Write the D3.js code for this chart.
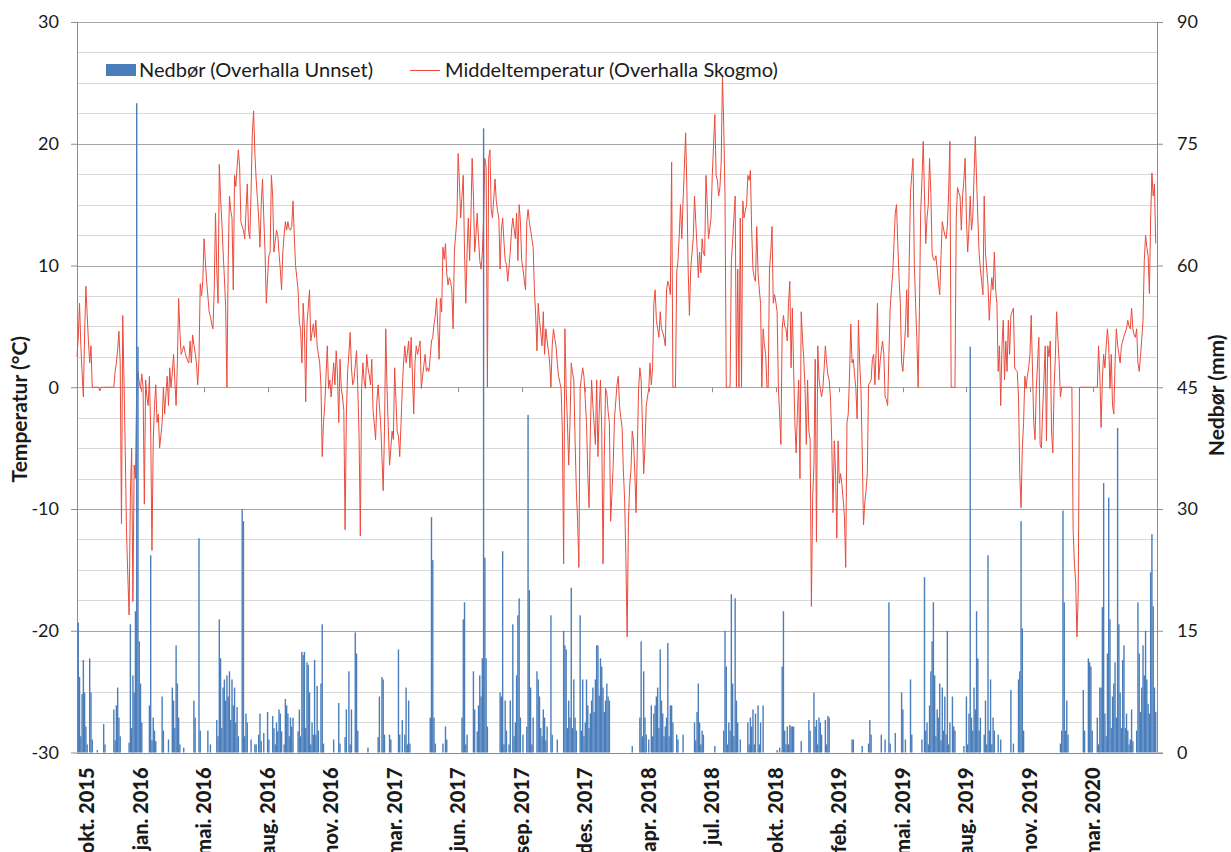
<!DOCTYPE html>
<html lang="no">
<head>
<meta charset="utf-8">
<title>Nedbør og middeltemperatur, Overhalla 2015-2020</title>
<script src="https://cdn.jsdelivr.net/npm/d3@7"></script>
<style>
  body { margin: 0; background: #fff; }
  svg text { font-family: Lato, "Open Sans", sans-serif; fill: #1a1a1a; }
  .axis text { font-size: 18px; }
  .axis path { display: none; }
  .axis line { stroke: #8c8c8c; }
  .x_label { font-size: 20px; font-weight: 900; }
  .axis_title { font-size: 21px; font-weight: bold; }
  .legend text { font-size: 20px; }
</style>
</head>
<body>
<div id="chart"></div>
<script>
const svg_width = 1231;
const svg_height = 852;
const margin = {top: 22, right: 74, bottom: 99.5, left: 77};

// first date of the series, one value every second day
const start_date = new Date(2015, 9, 21);
const step_days = 2;
const tick_every_days = 100;

const date_tick_labels = ['okt. 2015', 'jan. 2016', 'mai. 2016', 'aug. 2016', 'nov. 2016',
  'mar. 2017', 'jun. 2017', 'sep. 2017', 'des. 2017', 'apr. 2018', 'jul. 2018', 'okt. 2018',
  'feb. 2019', 'mai. 2019', 'aug. 2019', 'nov. 2019', 'mar. 2020'];
const temp_ticks = [-30, -20, -10, 0, 10, 20, 30];
const precip_ticks = [0, 15, 30, 45, 60, 75, 90];

// Middeltemperatur (Overhalla Skogmo), °C  (missing days are plotted as 0)
const temp_values = [
  2.5, 4.1, 6.9, 3.5, 1.2, -0.8, 4.5, 8.3, 6.0, 3.8,
  2.0, 3.4, 0, 0, 0, 0, 0, 0, -0.3, 0,
  0, 0, 0, 0, 0, 0, 0, 0, 0, 0,
  1.3, 2.0, 3.1, 4.6, 2.0, -11.2, 5.9, 0.5, -5.4, -12,
  -15.5, -18.7, -9, -5, -17.6, -6.4, -7.5, 0, 1.3, 0.4,
  -0.1, 1.1, 0, -9.6, 0.6, -0.8, -1.5, 0.9, -3.6, -13.4,
  -4.4, -1.5, 0.2, -2.9, -2.2, -5, -4, -2.9, 0, -2.2,
  -0.5, 0.9, -1.5, 1.6, 0, 1.2, 2.7, 0.5, -1.5, 2,
  7.3, 4.5, 2.7, 3.0, 3.4, 2.9, 2.5, 2.2, 2.0, 3.8,
  2.0, 4.3, 3.5, 2.8, 2.0, 0.2, 2.3, 8.5, 7.5, 8.7,
  12.2, 10.4, 8.7, 7.5, 6.2, 5.8, 5.2, 4.8, 8, 14.3,
  9.7, 6.9, 18.3, 15.5, 13.6, 11.1, 9, 6.6, 0, 10.4,
  15.7, 14.5, 13.9, 8, 17.4, 16.5, 18.1, 19.5, 18.1, 13.6,
  13.2, 12.9, 12.2, 14.5, 16.7, 12.9, 12.2, 16, 20.9, 22.7,
  19.2, 17.1, 15.5, 13.9, 11.5, 15, 17.1, 13.9, 11.1, 6.9,
  9, 10.8, 11.1, 17.4, 15.7, 11.1, 12, 12.9, 12.5, 11,
  9.7, 8, 11.1, 12.5, 13.6, 12.9, 13.6, 13, 12.9, 13.2,
  15.3, 12.5, 10, 9, 8, 5.3, 4.8, 2, 6.9, 4.8,
  -1.2, 5.2, 6.5, 8, 3.8, 4.5, 5.2, 4.1, 5.5, 3.4,
  2.7, 2, 0.2, -5.7, -2.9, -1.5, 1, 3.4, -0.1, 0.6,
  -0.8, 0.5, 2, 0.2, 3, 1, -2.9, 2.3, -0.1, -0.8,
  -1.9, -11.7, -2.2, 1.3, 2.8, 4.5, 1.6, 0.2, 0.6, 1.8,
  3, -0.1, -4, -12.2, -0.1, 2, 0.5, -0.1, 2.7, 1.6,
  1, 0.2, 2.3, -1.9, -3, -4.3, -1.2, 0.2, -1.5, -3,
  -5.7, -8.5, -3.6, 4.8, -0.1, -3.3, -6.4, -5, -3.6, -4.3,
  1.6, -1, -3.6, -4, -5.7, -3, -0.1, 2, 3.4, 2,
  2.8, 3.8, 1.6, 4.1, 1, -2.2, 2, 3.4, 2.7, 3.2,
  3.8, -0.1, 0.9, 1.8, 2.7, 1.3, 1.6, 1.3, 2.5, 3.8,
  4.1, 5.2, 5.9, 7.3, 4.8, 2.3, 7.3, 6.2, 11.5, 10.5,
  11.8, 9.4, 8.4, 9, 8.7, 8, 4.8, 11.1, 12.5, 13.9,
  19.2, 16.7, 13.9, 15.7, 17.4, 11.1, 6.9, 11.1, 13.9, 10.4,
  13.9, 18.8, 15.7, 11.1, 12.5, 14.3, 12.2, 10.4, 9.7, 11,
  13.9, 18.8, 18.1, 0, 18.8, 19.5, 14.6, 13.9, 15.5, 17.1,
  15.3, 14.5, 13.9, 9.7, 12.9, 13.9, 12, 10.4, 10.1, 8.7,
  9.9, 11.1, 12.9, 13.9, 13, 12.2, 14.3, 10.4, 15, 13.6,
  10.4, 9.7, 8.8, 8, 13.6, 14.6, 13.6, 12.9, 12.2, 11.5,
  8, 5.9, 3, 6.9, 5.5, 4.5, 3.4, 6.2, 2.7, 4.8,
  3.8, 3, 2, 0, 3.4, 4.8, 4, 3.4, 2, 0.9,
  0.4, -0.1, -3.6, -14.5, 4.8, -0.1, -3, -6.4, -2.9, 2,
  1.2, 0.6, -4.3, -8.5, -11, -14.8, -0.1, 0.8, 1.6, 0.9,
  -1, -2.9, -7.1, -9.9, -3.6, 0.6, -1.5, -3, -4.7, 0.6,
  -5.7, -2, 0.6, -3.6, -14.5, -5.7, -0.1, -0.5, -2, -2.9,
  -11, -8.8, -6.4, -2.6, -1.2, 0.2, 0.9, -1.5, -2.5, -3.3,
  -6.8, -9.2, -14.1, -20.5, -11, -8, -6.8, -3.6, -4.4, -7,
  -10.3, -5, -0.1, 1.6, 0.6, -3, -7.1, -5, -1.5, -0.8,
  -0.1, 2, 0.2, 1.6, 6.9, 8, 5.5, 4.8, 4.1, 6.2,
  4.8, 4.5, 4.1, 3.4, 8, 8.7, 8.3, 7.6, 18.5, 0,
  0, 0, 9.4, 10.4, 12.5, 15, 12.2, 15.3, 18, 20.9,
  16.4, 9.7, 5.9, 9.7, 11, 12.2, 15.7, 13.6, 11.5, 9,
  11.1, 9.4, 12.2, 11, 10.8, 17.4, 15, 12.2, 13, 13.9,
  17.4, 19.9, 22.4, 17.4, 17, 15.7, 16.4, 18.5, 25.5, 21.6,
  15.7, 0, 0, 0, 0, 10.4, 12, 13.9, 15.7, 0,
  9.7, 0, 13.9, 0, 15.3, 13.9, 14.5, 15, 17.4, 17,
  17.8, 12.9, 9.7, 9, 8.7, 13.2, 9.4, 8, 6.9, 0,
  4.8, 3.5, 2.7, 0, 0, 9.7, 11, 13.2, 6.9, 7.6,
  7, 6.2, 0, -2.2, -4.7, 4.8, 5.9, 5, 4.8, 3.8,
  6.9, 8.7, 1.6, 6.5, 1.6, -2.9, -5.4, -2, 0.6, -7.5,
  6.2, 4, 2.3, -0.1, -4.7, 0.6, -3.6, -4.3, -18, -9,
  -6.4, 2.3, -12.7, 3.4, 0.6, -0.1, -0.8, -0.1, 1.5, 3.4,
  2, 1, 0.6, -0.8, -4.4, -10.3, -4.4, -6.9, -12.4, -4.4,
  -7.9, -7.1, -8, -9.2, -10.6, -14.8, -2.9, -2.2, 1, 5.2,
  2, 2.3, 1, -0.1, -2.6, 5.5, 2, -0.1, -5.4, -11.3,
  -9.5, -8.5, -7.1, 0.2, 0.4, 0.6, 2.3, 2.7, 0.2, 3,
  6.9, 0.6, 2, 3, 3.8, 2.7, -0.8, -1, -1.5, 2.7,
  6.5, 8, 9.4, 11.8, 14.3, 15, 11.8, 9, 6.9, 2,
  1.3, 3, 4.8, 8, 4.1, 10.4, 16, 17.5, 18.8, 10.1,
  6.9, 4, 0, 6.2, 14.3, 17, 20.2, 16, 11.8, 13.9,
  15, 18.8, 16, 11.1, 10.5, 10.4, 10.8, 9.7, 8.5, 7.6,
  10.8, 13.6, 13, 12.5, 12.2, 13.2, 16, 20.2, 0, 0,
  0, 0, 13.9, 16.4, 16, 15.7, 12.9, 15.7, 17, 18.8,
  13.9, 11.1, 13, 15.7, 12.9, 13.9, 17.4, 20.6, 17.1, 13.9,
  11, 9.7, 8.7, 7.6, 15.7, 11, 9.7, 8.4, 5.5, 7.5,
  9, 8, 11.1, 8, 6.9, 1.3, 3.4, -1.5, 3.4, 5.5,
  0.6, 3.8, 1.3, 5.5, 2.7, 5.9, 6.2, 6.5, 1.6, 1.4,
  1.3, -0.8, -7.1, -9.9, -5, -2.9, 0.9, -0.1, 1, 1.6,
  2.7, 5.9, 1.5, -2.9, -4.3, -0.1, 2, 4.1, -4.7, -5,
  -2, 0.6, 3.4, -4.4, 3.4, 2.5, 3.8, -3.6, -5.4, -0.1,
  2.5, 6.2, 4, 2, -0.8, 0, 0, 0, 0, 0,
  0, 0, 0, 0, -11.7, -14.5, -16, -20.5, -17, 0,
  0, 0, 0, 0, 0, 0, 0, 0, 0, 0,
  0, 0, 0, 0, 3.4, 1, -3.3, 0.6, 2.7, 1.6,
  3.4, 4.8, 3.4, -0.1, 2.7, -1.5, -2.2, 2, 4.8, 3.5,
  2.7, 2, 3.4, 3.8, 4.2, 4.5, 4.8, 5.5, 5, 4.8,
  6.5, 4.8, 4.3, 4.1, 4.8, 2, 1.3, 2.5, 4, 5.5,
  10.4, 12.5, 11.5, 10.8, 7.7, 13.9, 17.6, 15.7, 16.7, 11.8
];

// Nedbør (Overhalla Unnset), mm
const precip_values = [
  0, 16, 9.3, 2, 7.2, 11.4, 7.4, 3.2, 1, 0,
  11.6, 7.4, 1.6, 0, 0, 0, 0.3, 0, 0, 0,
  0, 3.5, 1, 0, 0, 0, 0, 0, 0, 5.3,
  1.5, 5.8, 8, 4.3, 2, 0, 0, 0, 0, 0,
  0, 1.2, 15.8, 3, 9.5, 7.4, 17.4, 80, 50, 13.7,
  8.5, 3.7, 0, 0, 0, 0, 0, 5.8, 24.3, 1.5,
  4.3, 2.7, 1.4, 0, 0, 0, 0, 6.9, 2.7, 0,
  0, 0, 1.6, 0, 0, 8, 6.4, 3, 13.2, 8.5,
  4.3, 1, 0, 0, 0.6, 0, 0, 0, 0, 0,
  0, 0, 6.4, 4.3, 0, 0, 26.4, 2.7, 0, 0,
  0, 0, 0, 2.7, 0, 1, 0, 0, 0, 0,
  4, 2, 16.4, 11.6, 3, 8, 9, 6.4, 9.5, 6.9,
  10, 4, 9, 5.8, 8, 3.7, 5.6, 2, 0, 0,
  30, 28.5, 2, 4.8, 3.7, 0, 0, 1.6, 0, 0,
  1, 1, 0, 2.2, 4.8, 1.4, 0, 2.4, 0, 0,
  5, 1.6, 0, 0, 4.5, 3, 1, 3.7, 2.6, 5.3,
  4.8, 2.6, 0, 1, 6.6, 5.8, 4.8, 2, 4.3, 3.2,
  4.3, 0, 0, 0, 2.6, 5.3, 2, 12.4, 12, 12.4,
  3, 11.1, 10.8, 7.4, 1, 3.7, 2.2, 11.4, 2.2, 8.2,
  2.7, 0, 8.5, 15.8, 1.1, 0, 0, 0, 0, 0,
  0, 0, 1.6, 0, 0, 0, 6.1, 1.1, 0, 0,
  0, 1.9, 5.3, 0, 10, 1, 5.3, 0, 0, 14.8,
  12.2, 2.7, 0, 0, 0, 0, 0, 0, 0, 0.6,
  0, 0, 0, 0, 0, 0, 0, 1.9, 6.9, 0,
  9.3, 9, 2.2, 0, 0, 0, 2.2, 1.6, 0, 0,
  0, 0, 0, 12.7, 2.2, 0, 4, 0, 2.2, 8,
  1, 6.4, 1.1, 0, 0, 0, 0, 0, 0, 0,
  0, 0, 0, 0, 0, 0, 0, 0, 4.3, 29,
  23.7, 4.3, 1.1, 0, 0, 0, 0, 0, 1.1, 0,
  3.2, 1.6, 0, 0, 0, 0, 0, 0, 0, 0,
  0, 0, 0, 4.3, 16.4, 18.5, 1, 2.2, 0, 0,
  0, 0, 10, 5.3, 0, 2.6, 5.8, 9.5, 6.9, 11.6,
  76.9, 24, 11.6, 3.2, 0, 0, 0, 0, 0, 0,
  0, 0, 0, 7.4, 6.9, 24.8, 1, 6.4, 2.7, 0,
  1, 6.4, 0, 15.8, 2, 3.7, 9.5, 16.9, 19, 4.3,
  0, 2.2, 0, 0, 3.2, 41.6, 20, 8, 1, 4.3,
  0, 0, 10, 9, 6.9, 3, 2, 5.3, 4.3, 1.5,
  3.2, 0, 0, 16.9, 2.2, 0, 0, 0, 1.6, 0,
  0, 0, 0, 15, 13.2, 12.7, 3, 6.4, 4.3, 20.3,
  3, 9, 4.3, 2.7, 0, 0, 16.9, 2.7, 9, 2,
  3.7, 9, 5.8, 3, 4.8, 6.4, 8, 5, 9, 13.2,
  13.2, 7, 11.6, 10.6, 8, 5, 6.4, 8.5, 6.9, 6.4,
  0, 0, 0, 0, 0, 0, 0, 0, 0, 0,
  0, 0, 0, 0, 0, 0, 0, 0.8, 0, 0,
  0, 0, 0, 4.3, 13.7, 2, 10, 4.3, 2.2, 0,
  1.6, 0, 5.8, 2, 4.8, 5.8, 6.9, 8, 3, 12.7,
  6.4, 4.8, 2, 3.2, 4.3, 13.5, 2, 5.8, 5.8, 3.7,
  0, 0, 2.2, 1.6, 0, 0, 0, 2.2, 0, 0,
  0, 0, 0, 0, 0, 0, 3.7, 1.5, 5, 8.5,
  3.7, 1, 2.7, 2.2, 0, 0, 0, 0, 0, 0,
  0, 0, 0.8, 0, 0, 0, 0, 0, 0, 2.7,
  15, 10.6, 1, 3.7, 2.7, 19.5, 8.5, 2, 19, 6.4,
  3.7, 0, 1.6, 0, 0, 0, 0, 0, 3.7, 1,
  4.3, 3.2, 5.3, 1, 4.8, 0, 5.8, 1, 3.7, 0,
  5.8, 0, 0, 0, 0, 0, 0, 0, 0, 0,
  0, 0.3, 0, 0.6, 0, 10.6, 17.4, 2.7, 1, 3.2,
  1, 3.4, 3.2, 3.2, 3.2, 0, 0, 0, 0, 0,
  1.4, 0, 0, 0, 0, 0, 4, 2.7, 0, 0,
  7.4, 3.2, 4, 1, 4.3, 3.7, 2.2, 0, 0, 4,
  1, 4.5, 4.3, 0, 0, 0, 0, 0, 0, 0,
  0, 0, 0, 0, 0, 0, 0, 0, 0, 0,
  1.6, 1.6, 0, 0, 0, 0, 0, 0, 0.8, 0,
  0, 0, 0, 1.1, 4, 2.2, 0, 0, 0, 0,
  0, 0, 0, 2.2, 0, 0, 1.6, 0, 0, 18.5,
  1.1, 0, 0, 0, 2.4, 0, 0, 0, 0, 7.4,
  5.3, 0, 1.6, 0, 0, 0, 9, 2.2, 0, 0,
  0, 0, 0, 0, 0, 1.6, 0, 21.6, 2.7, 3.7,
  1, 5.8, 10, 13.7, 18.5, 9.5, 2, 5.3, 4.3, 8.5,
  1.5, 8, 2.7, 6.9, 2.2, 15, 1, 3.7, 0, 6.9,
  3.2, 2.7, 0, 0, 0, 0, 0, 0, 0.8, 0,
  6.9, 1, 4.8, 50, 4.3, 2.7, 8, 5.3, 17.4, 11.6,
  2.7, 4.3, 0, 0, 2.2, 6.4, 1, 24.3, 2.7, 9,
  1, 4.3, 2.7, 0, 0, 2.2, 0, 1.6, 0, 0,
  0, 0, 0, 0, 0, 7.7, 0, 1.1, 0, 0,
  0, 9, 10, 28.5, 15.3, 2.7, 0, 0, 0, 0,
  0, 0, 0, 0, 0, 0, 0, 0, 0, 0,
  0, 0, 0, 0, 0, 0, 0, 0, 0, 0,
  0, 0, 0, 0, 1.1, 2.7, 29.8, 18.5, 2.7, 6.4,
  2.2, 0, 0, 0, 0, 0, 0, 0, 0, 0,
  0, 0, 7.7, 2.7, 0, 0, 11.6, 11.1, 10.6, 2.7,
  0, 0, 0, 4.3, 1, 8, 8, 17.9, 33.2, 4.8,
  2, 12.2, 31.4, 16.4, 3, 6.9, 8.5, 11.1, 4.3, 40,
  15.8, 7.4, 3, 11.4, 13.2, 3, 4.8, 2.7, 1, 1.6,
  5.3, 1.4, 0, 0, 2.7, 18.5, 12.2, 5, 8, 13.2,
  9.5, 15, 9, 6, 4.8, 22.2, 26.9, 18, 8, 5
];

const temp_data = temp_values.map((v, i) => ({date: d3.timeDay.offset(start_date, i * step_days), value: v}));
const precip_data = precip_values.map((v, i) => ({date: d3.timeDay.offset(start_date, i * step_days), value: v}));
const date_ticks = date_tick_labels.map((lab, i) => ({date: d3.timeDay.offset(start_date, i * tick_every_days), label: lab}));

const svg = d3.select('#chart')
  .append('svg')
  .attr('width', svg_width)
  .attr('height', svg_height);

const plot_right = svg_width - margin.right;
const plot_bottom = svg_height - margin.bottom;

//scales
const x_scale = d3.scaleTime()
  .domain([start_date, d3.timeDay.offset(start_date, tick_every_days * date_tick_labels.length)])
  .range([margin.left, plot_right]);
const y_temp = d3.scaleLinear().domain([-30, 30]).range([plot_bottom, margin.top]);
const y_precip = d3.scaleLinear().domain([0, 90]).range([plot_bottom, margin.top]);

//gridlines, light every 2.5 degrees and darker every 10
svg.append('g')
  .selectAll('line').data(d3.range(-30, 30.01, 2.5)).enter()
  .append('line')
  .attr('x1', margin.left).attr('x2', plot_right)
  .attr('y1', d => Math.round(y_temp(d)) + 0.5).attr('y2', d => Math.round(y_temp(d)) + 0.5)
  .attr('stroke', d => d % 10 === 0 ? '#a6a6a6' : '#d9d9d9')
  .attr('stroke-width', 1);

//frame
svg.append('line')
  .attr('x1', margin.left + 0.5).attr('x2', margin.left + 0.5)
  .attr('y1', margin.top).attr('y2', plot_bottom)
  .attr('stroke', '#8c8c8c');
svg.append('line')
  .attr('x1', plot_right + 0.5).attr('x2', plot_right + 0.5)
  .attr('y1', margin.top).attr('y2', plot_bottom)
  .attr('stroke', '#8c8c8c');
svg.append('line')
  .attr('x1', margin.left).attr('x2', plot_right + 6)
  .attr('y1', Math.round(plot_bottom) + 0.5).attr('y2', Math.round(plot_bottom) + 0.5)
  .attr('stroke', '#8c8c8c');

//temperature line
const temp_line = d3.line()
  .x(d => x_scale(d.date))
  .y(d => y_temp(d.value));
svg.append('path')
  .datum(temp_data)
  .attr('d', temp_line)
  .attr('fill', 'none')
  .attr('stroke', '#eb4b3c')
  .attr('stroke-width', 1)
  .attr('stroke-linejoin', 'round');

//precipitation bars
const bar_width = 1.4;
svg.append('g')
  .selectAll('rect').data(precip_data.filter(d => d.value > 0)).enter()
  .append('rect')
  .attr('x', d => x_scale(d.date) - bar_width / 2)
  .attr('y', d => y_precip(d.value))
  .attr('width', bar_width)
  .attr('height', d => y_precip(0) - y_precip(d.value))
  .attr('fill', '#4a7ebb');

//axes
svg.append('g')
  .attr('class', 'axis')
  .attr('transform', `translate(${margin.left},0)`)
  .call(d3.axisLeft(y_temp).tickValues(temp_ticks).tickSize(6).tickPadding(12).tickFormat(d => String(d)));
svg.append('g')
  .attr('class', 'axis')
  .attr('transform', `translate(${plot_right},0)`)
  .call(d3.axisRight(y_precip).tickValues(precip_ticks).tickSize(6).tickPadding(14));

//date ticks hang below the 0 line, labels sit under the plot
svg.append('g')
  .selectAll('line').data(date_ticks).enter()
  .append('line')
  .attr('x1', d => Math.round(x_scale(d.date)) + 0.5)
  .attr('x2', d => Math.round(x_scale(d.date)) + 0.5)
  .attr('y1', y_temp(0)).attr('y2', y_temp(0) + 5)
  .attr('stroke', '#8c8c8c');
svg.append('g')
  .selectAll('text').data(date_ticks).enter()
  .append('text')
  .attr('class', 'x_label')
  .attr('text-anchor', 'end')
  .attr('dy', '0.35em')
  .attr('transform', d => `translate(${Math.max(x_scale(d.date), margin.left + 10)},${plot_bottom + 15}) rotate(-90)`)
  .text(d => d.label);

//axis titles
svg.append('text')
  .attr('class', 'axis_title')
  .attr('text-anchor', 'middle')
  .attr('transform', `translate(27,${y_temp(-1.8)}) rotate(-90)`)
  .text('Temperatur (°C)');
svg.append('text')
  .attr('class', 'axis_title')
  .attr('text-anchor', 'middle')
  .attr('transform', `translate(1224,${y_precip(44)}) rotate(-90)`)
  .text('Nedbør (mm)');

//legend
const legend = svg.append('g').attr('class', 'legend');
legend.append('rect')
  .attr('x', 106).attr('y', 64).attr('width', 30).attr('height', 12)
  .attr('fill', '#4a7ebb');
legend.append('text')
  .attr('x', 139).attr('y', 77)
  .text('Nedbør (Overhalla Unnset)');
legend.append('line')
  .attr('x1', 410).attr('x2', 440).attr('y1', 70.5).attr('y2', 70.5)
  .attr('stroke', '#eb4b3c');
legend.append('text')
  .attr('x', 445).attr('y', 77)
  .text('Middeltemperatur (Overhalla Skogmo)');
</script>
</body>
</html>
